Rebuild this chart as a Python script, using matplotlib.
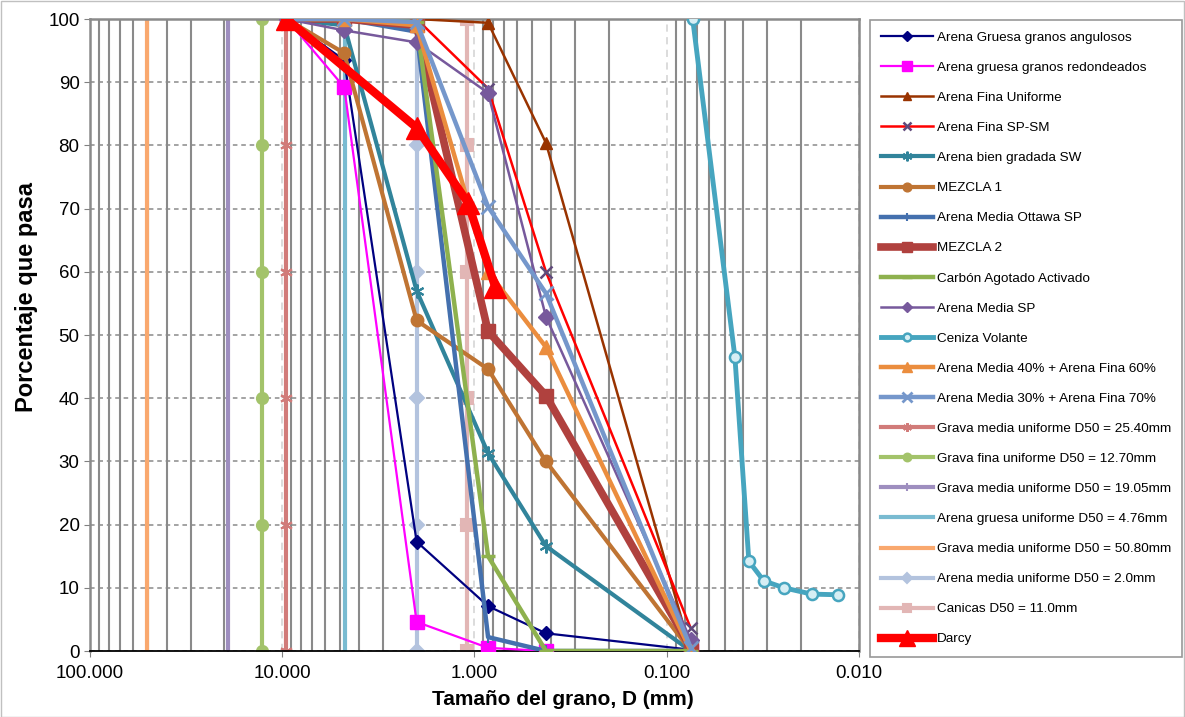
import matplotlib
matplotlib.use("Agg")
import matplotlib.pyplot as plt
from matplotlib.ticker import FixedLocator, FixedFormatter, LogLocator, NullFormatter
from matplotlib.patches import Rectangle

plt.rcParams['font.family'] = ['Liberation Sans', 'DejaVu Sans']

# ---------------- data ----------------
sieves = [9.5, 4.76, 2.0, 0.85, 0.425, 0.075]
sieves_fine = [2.0, 0.85, 0.425, 0.075]

arena_gruesa_ang = [100, 93.5, 17.3, 7.1, 2.8, 0.2]
arena_gruesa_red = [100, 89.2, 4.6, 0.5, 0.0, 0.0]
arena_fina_unif = [100, 99.4, 80.4, 0.0]
arena_fina_spsm = [100, 89.0, 60.0, 3.6]
arena_sw = [100, 99.0, 57.0, 31.3, 16.6, 0.0]
mezcla1 = [100, 94.6, 52.3, 44.6, 30.0, 0.0]
ottawa = [100, 100, 98.0, 2.2, 0.0, 0.0]
mezcla2 = [100, 100, 99.0, 50.6, 40.4, 0.5]
carbon = [100, 100, 99.5, 15.0, 0.0, 0.0]
arena_media_sp = [100, 98.2, 96.3, 88.3, 52.9, 1.7]
ceniza_x = [0.0733, 0.0442, 0.0374, 0.0313, 0.0246, 0.0176, 0.0129]
ceniza_y = [100, 46.5, 14.2, 11.1, 10.0, 9.0, 8.9]
mix_40_60 = [100, 100, 99.0, 60.0, 48.1, 0.0]
mix_30_70 = [100, 100, 99.5, 70.3, 56.6, 0.5]

uniform_y = [0, 20, 40, 60, 80, 100]
grava_2540_x = 9.6
grava_1270_x = 12.7
grava_1905_x = 19.05
arena_476_x = 4.7
grava_5080_x = 50.8
arena_20_x = 2.0
canicas_x = 1.1

darcy_x = [9.5, 2.0, 1.08, 0.78]
darcy_y = [100, 82.8, 70.9, 57.6]

x_ticks = [100, 10, 1, 0.1, 0.01]
x_tick_labels = ['100.000', '10.000', '1.000', '0.100', '0.010']
y_ticks = list(range(0, 101, 10))

# ---------------- figure ----------------
W, H = 1185, 717
fig = plt.figure(figsize=(W / 100, H / 100), dpi=100)
ax = fig.add_axes([90 / W, 1 - 651 / H, (859 - 90) / W, (651 - 19) / H])

ax.set_xscale('log')
ax.set_xlim(100, 0.01)
ax.set_ylim(0, 100)

# grids
ax.xaxis.set_minor_locator(LogLocator(base=10, subs=range(2, 10)))
ax.xaxis.set_minor_formatter(NullFormatter())
ax.grid(which='minor', axis='x', color='#8a8a8a', lw=1.5, ls='-', zorder=0)
ax.grid(which='major', axis='x', color='#d9d9d9', lw=1.3, ls=(0, (4, 3)), zorder=0)
ax.grid(which='major', axis='y', color='#8a8a8a', lw=1.1, ls=(0, (3, 2.5)), zorder=0)
ax.set_axisbelow(True)

ax.xaxis.set_major_locator(FixedLocator(x_ticks))
ax.xaxis.set_major_formatter(FixedFormatter(x_tick_labels))
ax.yaxis.set_major_locator(FixedLocator(y_ticks))
ax.tick_params(axis='both', which='major', labelsize=13.5, length=4, color='#808080')
ax.tick_params(axis='x', which='minor', length=0)
ax.tick_params(axis='x', pad=6)

for s in ['top', 'right', 'left']:
    ax.spines[s].set_color('#8a8a8a')
    ax.spines[s].set_linewidth(1.8)
ax.spines['bottom'].set_color('black')
ax.spines['bottom'].set_linewidth(1.3)

# vertical uniform series (behind)
def vline(x, color, marker, label, ms=6, mew=1.5):
    ax.plot([x] * len(uniform_y), uniform_y, color=color, lw=3, marker=marker,
            ms=ms, mew=mew, label=label, zorder=2)

ax.plot(sieves, arena_gruesa_ang, color='#000080', lw=1.6, marker='D', ms=7,
        label='Arena Gruesa granos angulosos', zorder=4)
ax.plot(sieves, arena_gruesa_red, color='#FF00FF', lw=1.6, marker='s', ms=10,
        label='Arena gruesa granos redondeados', zorder=4)
ax.plot(sieves_fine, arena_fina_unif, color='#993300', lw=1.8, marker='^', ms=9,
        label='Arena Fina Uniforme', zorder=4)
ax.plot(sieves_fine, arena_fina_spsm, color='#FF0000', lw=1.8, marker='x', ms=9,
        mec='#604A7B', mew=1.8, label='Arena Fina SP-SM', zorder=4)
ax.plot(sieves, arena_sw, color='#31849B', lw=3, marker=(6, 2, 0), ms=10,
        mew=1.5, label='Arena bien gradada SW', zorder=4)
ax.plot(sieves, mezcla1, color='#BF7433', lw=3, marker='o', ms=9,
        label='MEZCLA 1', zorder=4)
ax.plot(sieves, ottawa, color='#4470AE', lw=3.2, marker='|', ms=9, mew=1.5,
        label='Arena Media Ottawa SP', zorder=4)
ax.plot(sieves, mezcla2, color='#B0413E', lw=5.5, marker='s', ms=10,
        label='MEZCLA 2', zorder=4)
ax.plot(sieves, carbon, color='#8EB14E', lw=3.2, marker='_', ms=10, mew=2.5,
        label='Carbón Agotado Activado', zorder=4)
ax.plot(sieves, arena_media_sp, color='#77599C', lw=1.8, marker='D', ms=8,
        label='Arena Media SP', zorder=4)
ax.plot(ceniza_x, ceniza_y, color='#46A5BF', lw=3.5, marker='o', ms=8,
        mfc='#d6eef4', mew=1.8, label='Ceniza Volante', zorder=4)
ax.plot(sieves, mix_40_60, color='#EB8D3E', lw=3.2, marker='^', ms=10,
        label='Arena Media 40% + Arena Fina 60%', zorder=4)
ax.plot(sieves, mix_30_70, color='#7597CB', lw=3.2, marker='x', ms=10, mew=2,
        label='Arena Media 30% + Arena Fina 70%', zorder=4)

vline(grava_2540_x, '#D17B79', (6, 2, 0), 'Grava media uniforme D50 = 25.40mm', ms=9)
vline(grava_1270_x, '#A3C36A', 'o', 'Grava fina uniforme D50 = 12.70mm', ms=8)
vline(grava_1905_x, '#9E8EBF', '|', 'Grava media uniforme D50 = 19.05mm', ms=9)
vline(arena_476_x, '#79BBD1', 'None', 'Arena gruesa uniforme D50 = 4.76mm')
vline(grava_5080_x, '#F9A86E', 'None', 'Grava media uniforme D50 = 50.80mm')
vline(arena_20_x, '#B3C3DE', 'D', 'Arena media uniforme D50 = 2.0mm', ms=7)
vline(canicas_x, '#E2B6B5', 's', 'Canicas D50 = 11.0mm', ms=9)

ax.plot(darcy_x, darcy_y, color='#FF0000', lw=6, marker='^', ms=16, label='Darcy', zorder=6)

ax.set_xlabel('Tamaño del grano, D (mm)', fontsize=15, fontweight='bold')
ax.set_ylabel('Porcentaje que pasa', fontsize=17, fontweight='bold')
ax.xaxis.set_label_coords((563 - 90) / 769, (651 - 690) / 632)
ax.yaxis.set_label_coords((38 - 90) / 769, (651 - 297) / 632)

leg = fig.legend(loc='upper left', bbox_to_anchor=(870 / W, 1 - 20 / H),
                 fontsize=9.7, frameon=True, fancybox=False, edgecolor='#7f7f7f',
                 handlelength=3.8, labelspacing=1.31, borderpad=0.85, handletextpad=0.3,
                 borderaxespad=0, markerscale=0.7)
leg.get_frame().set_linewidth(1.2)

fig.patches.append(Rectangle((0.5 / W, 0.5 / H), 1 - 1.5 / W, 1 - 1.5 / H, transform=fig.transFigure,
                             fill=False, edgecolor='#c0c0c0', lw=1))

fig.savefig('out.png', dpi=100)
